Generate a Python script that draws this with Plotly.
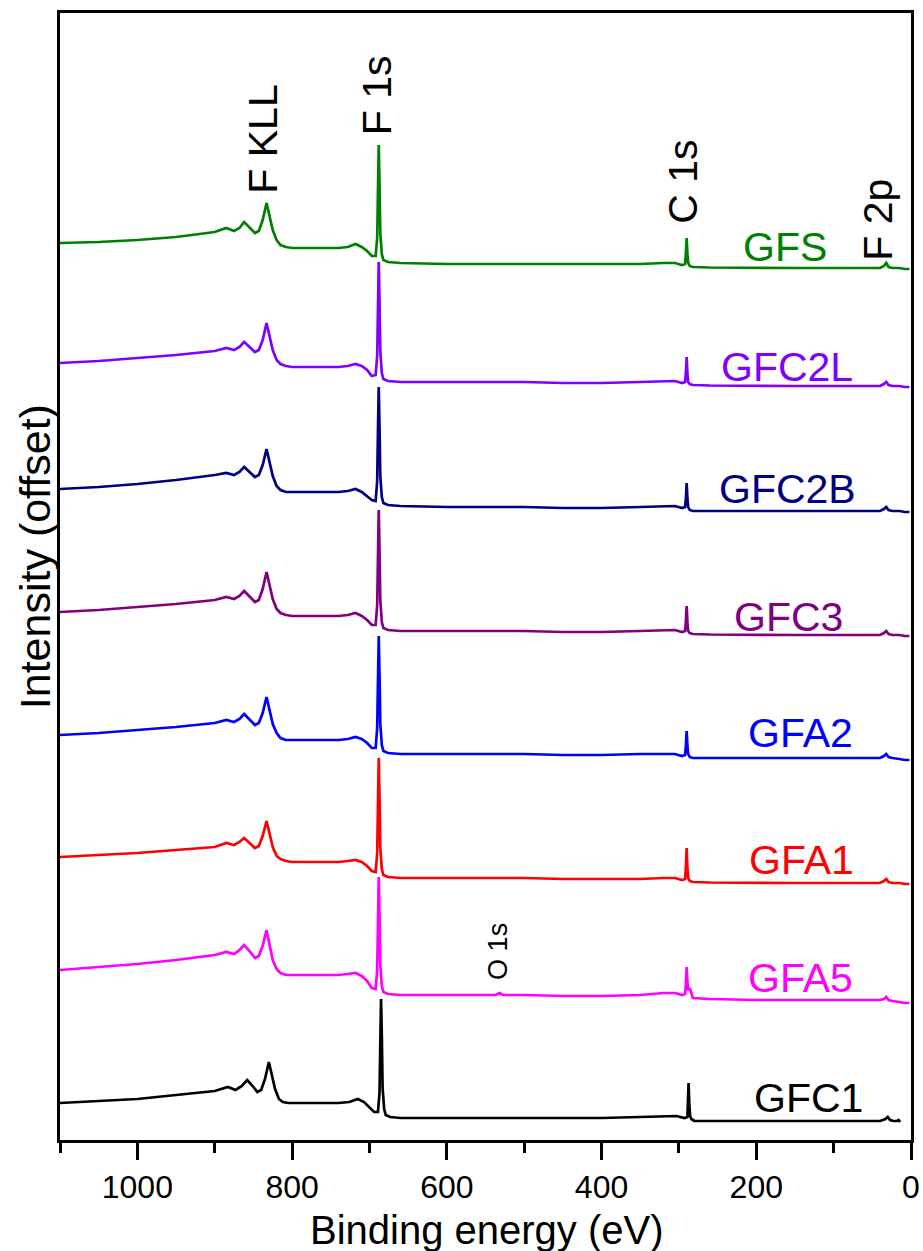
import plotly.graph_objects as go

# Binding-energy grid shared by most survey scans (eV, high to low)
energy = [1100, 1050, 1000, 950, 900,
          885, 875, 868, 862, 855,
          848, 843, 838, 833, 829,
          825, 820, 815, 808, 800,
          770, 740, 728, 718, 710,
          703, 697, 692, 690, 689,
          688, 687, 686, 684, 682,
          676, 660, 600, 545, 537,
          532, 527, 500, 450, 400,
          350, 320, 305, 296, 292,
          291, 290, 289, 288, 286,
          282, 260, 200, 150, 100,
          60, 40, 35, 32, 29,
          24, 15, 8, 2]

# GFC1 was recorded with a slightly different calibration and stops at 14 eV
energy_gfc1 = [1100, 1050, 1000, 950, 900,
               883, 873, 865, 858, 851,
               845, 840, 835, 830, 826,
               822, 817, 812, 805, 797,
               770, 740, 726, 715, 707,
               700, 694, 689, 687, 686,
               685, 684, 683, 681, 679,
               673, 660, 600, 545, 537,
               532, 527, 500, 450, 400,
               350, 318, 303, 293, 289,
               288.5, 287.5, 286.5, 285.5, 284,
               280, 260, 200, 150, 100,
               60, 40, 33, 30, 27,
               23, 18, 16, 14]

# Intensities (arb. units, relative to each scan's low-BE baseline)
gfs = [25, 26, 28, 31, 36,
       40, 37, 40, 46, 40,
       35, 37, 48, 65, 52,
       38, 28, 23, 21, 20,
       20, 20, 21, 24, 21,
       17, 12, 12, 30, 80,
       123, 85, 35, 14, 8,
       6, 5, 4, 4, 4,
       4, 4, 4, 4, 4,
       4, 5, 5, 3, 4,
       14, 30, 14, 5, 2,
       1, 0.5, 0, 0, 0,
       0, 0, 2, 5, 1,
       0, 0, -1, -1]

gfc2l = [23, 25, 28, 31, 35,
         38, 36, 39, 44, 39,
         34, 36, 46, 63, 50,
         36, 26, 22, 20, 19,
         19, 19, 20, 22, 20,
         16, 10, 11, 30, 80,
         124, 85, 35, 13, 7,
         5, 4, 4, 4, 4,
         4, 4, 4, 3, 3,
         4, 5, 5, 3, 4,
         13, 29, 13, 4, 2,
         1, 0.5, 0, 0, 0,
         0, 0, 2, 4, 1,
         0, 0, -1, -1]

gfc2b = [22, 24, 27, 31, 36,
         38, 36, 39, 44, 39,
         34, 36, 46, 62, 49,
         35, 25, 21, 19, 19,
         19, 19, 20, 22, 19,
         15, 11, 10, 30, 80,
         124, 85, 35, 14, 8,
         6, 5, 4, 4, 4,
         4, 4, 4, 3, 3,
         4, 5, 5, 3, 4,
         12, 28, 12, 4, 1,
         0, 0, 0, 0, 0,
         0, 0, 2, 4, 1,
         0, 0, -1, -1]

gfc3 = [23, 25, 28, 31, 35,
        38, 36, 39, 44, 39,
        33, 35, 46, 63, 50,
        36, 26, 22, 20, 19,
        19, 19, 20, 22, 19,
        15, 10, 10, 30, 80,
        125, 86, 35, 13, 7,
        5, 4, 4, 4, 4,
        4, 4, 4, 3, 3,
        4, 5, 5, 3, 4,
        13, 29, 13, 4, 2,
        1, 0.5, 0, 0, 0,
        0, 0, 2, 4, 1,
        0, 0, -1, -1]

gfa2 = [23, 25, 28, 31, 35,
        38, 36, 39, 44, 39,
        33, 35, 45, 61, 48,
        34, 25, 20, 18, 18,
        18, 18, 19, 21, 19,
        15, 10, 10, 30, 78,
        122, 84, 34, 13, 7,
        5, 4, 4, 4, 4,
        4, 4, 4, 3, 3,
        4, 4, 4, 2, 3,
        12, 27, 12, 4, 1,
        0, 0, 0, 0, 0,
        0, 0, 2, 4, 1,
        0, -1, -2, -2]

gfa1 = [26, 28, 30, 33, 36,
        40, 38, 41, 45, 40,
        35, 37, 47, 62, 50,
        36, 27, 24, 22, 21,
        21, 21, 22, 23, 21,
        17, 12, 11, 30, 80,
        125, 86, 35, 14, 8,
        6, 5, 5, 5, 5,
        5, 5, 5, 4, 4,
        4, 5, 5, 3, 4,
        15, 35, 15, 5, 2,
        1, 0.5, 0, 0, 0,
        0, 0, 2, 4, 1,
        0, 0, -1, -1]

gfa5 = [30, 33, 36, 40, 45,
        48, 46, 50, 55, 49,
        42, 44, 54, 70, 55,
        40, 31, 27, 25, 25,
        25, 25, 26, 27, 24,
        19, 12, 11, 30, 80,
        123, 85, 35, 14, 8,
        6, 5, 5, 5, 5,
        7, 5, 5, 4, 4,
        5, 7, 7, 5, 6,
        15, 33, 18, 10, 12,
        2, 1, 0, 0, 0,
        0, 0, 1, 3, 0,
        -1, -2, -3, -3]

gfc1 = [18, 20, 22, 26, 30,
        34, 31, 35, 41, 35,
        29, 31, 42, 59, 46,
        32, 22, 19, 18, 18,
        18, 18, 19, 22, 19,
        14, 9, 9, 28, 78,
        122, 84, 33, 12, 6,
        4, 3, 3, 3, 3,
        3, 3, 3, 3, 3,
        4, 5, 5, 3, 4,
        16, 38, 16, 5, 2,
        0, 0, 0, 0, 0,
        0, 0, 2, 4, 1,
        0, 0, 1, -1]

# Sample names, stacking offsets and colours (top to bottom)
samples = ["GFS", "GFC2L", "GFC2B", "GFC3", "GFA2", "GFA1", "GFA5", "GFC1"]
spectra = [gfs, gfc2l, gfc2b, gfc3, gfa2, gfa1, gfa5, gfc1]
grids = [energy] * 7 + [energy_gfc1]
offsets = [872, 754, 629, 505, 382, 257, 140, 19]
colors = ["#008000", "#8000FF", "#000080", "#800080",
          "#0000FF", "#FF0000", "#FF00FF", "#000000"]

# Where the sample names sit (binding energy, stacked intensity)
name_pos = [(163, 893), (160, 773), (159, 651), (158, 523),
            (143, 407), (141, 280), (143, 162), (133, 42)]

# Photoelectron / Auger line assignments
peak_names = ["F KLL", "F 1s", "C 1s", "F 2p", "O 1s"]
peak_pos = [(838, 1001), (690, 1045), (295, 958), (43, 920), (534, 189)]
peak_sizes = [41, 41, 41, 41, 27]

for g, s in zip(grids, spectra):
    if len(g) != len(s):
        raise ValueError("grid/spectrum length mismatch")

fig = go.Figure()
for name, g, s, off, col in zip(samples, grids, spectra, offsets, colors):
    fig.add_trace(go.Scatter(
        x=g, y=[v + off for v in s], mode="lines", name=name,
        line=dict(color=col, width=2.7), showlegend=False,
    ))

font_family = "Liberation Sans, Arial, sans-serif"
annotations = []
for name, (ex, ey), col in zip(samples, name_pos, colors):
    annotations.append(dict(
        x=ex, y=ey, xref="x", yref="y", text=name, showarrow=False,
        font=dict(family=font_family, size=41, color=col),
        xanchor="center", yanchor="middle",
    ))
for name, (ex, ey), fs in zip(peak_names, peak_pos, peak_sizes):
    annotations.append(dict(
        x=ex, y=ey, xref="x", yref="y", text=name, showarrow=False,
        textangle=-90, font=dict(family=font_family, size=fs, color="black"),
        xanchor="center", yanchor="middle",
    ))
# Axis titles
annotations.append(dict(
    x=0.5018, y=-0.0795, xref="paper", yref="paper",
    text="Binding energy (eV)", showarrow=False,
    font=dict(family=font_family, size=40, color="black"),
    xanchor="center", yanchor="middle",
))
annotations.append(dict(
    x=-0.0294, y=0.518, xref="paper", yref="paper",
    text="Intensity (offset)", showarrow=False, textangle=-90,
    font=dict(family=font_family, size=43, color="black"),
    xanchor="center", yanchor="middle",
))

fig.update_layout(
    width=923, height=1251,
    margin=dict(l=60, r=12, t=13, b=111),
    paper_bgcolor="white", plot_bgcolor="white",
    font=dict(family=font_family, color="black"),
    annotations=annotations,
    xaxis=dict(
        range=[1100, 0], dtick=200, tick0=0, automargin=False,
        ticks="outside", ticklen=17, tickwidth=2.5, tickcolor="black",
        minor=dict(dtick=100, ticks="outside", ticklen=10,
                   tickwidth=2.5, tickcolor="black"),
        showline=True, linewidth=2.8, linecolor="black", mirror=True,
        showgrid=False, zeroline=False,
        tickfont=dict(family=font_family, size=32, color="black"),
    ),
    yaxis=dict(
        range=[0, 1127], showticklabels=False, ticks="", automargin=False,
        showline=True, linewidth=2.8, linecolor="black", mirror=True,
        showgrid=False, zeroline=False,
    ),
)

fig.write_html("out.html")
